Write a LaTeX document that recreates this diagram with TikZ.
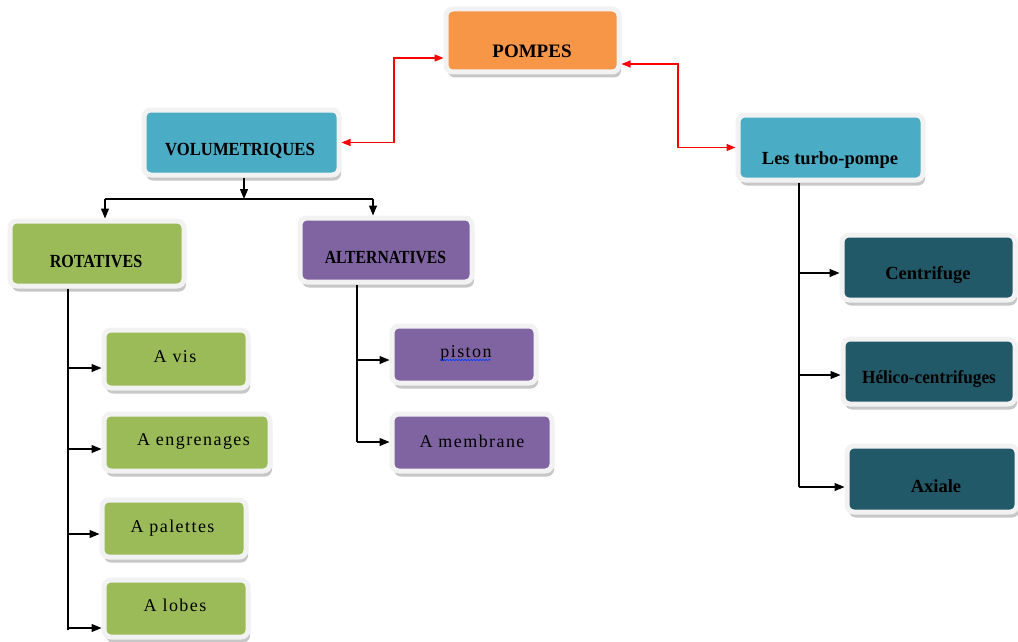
\documentclass[tikz,border=0pt]{standalone}
\usepackage{fontspec}
\usepackage{graphicx}
\setmainfont{Liberation Serif}
\newfontfamily\subfont{Liberation Serif}[LetterSpace=8]
\usetikzlibrary{arrows.meta,shadows,decorations.pathmorphing}
\definecolor{corange}{HTML}{F79646}
\definecolor{cblue}{HTML}{4BACC6}
\definecolor{cgreen}{HTML}{9BBB59}
\definecolor{cpurple}{HTML}{8064A2}
\definecolor{cteal}{HTML}{215968}
\definecolor{cframe}{HTML}{F2F2F2}
\tikzset{
  box/.style={rounded corners=7pt, draw=cframe, line width=5pt, inner sep=0pt,
    drop shadow={shadow xshift=2pt, shadow yshift=-5.5pt, opacity=0.4, fill=black!55}},
  lab/.style={anchor=base, inner sep=0pt, font=\bfseries\fontsize{18.5}{20}\selectfont, text=black},
  sublab/.style={anchor=base, inner sep=0pt, font=\subfont\fontsize{18}{20}\selectfont, text=black},
  conn/.style={line width=1.2pt, -{Triangle[length=10pt,width=8pt]}},
  plainline/.style={line width=1.2pt},
  redc/.style={red, line width=1.2pt, {Triangle[length=9pt,width=7pt]}-{Triangle[length=9pt,width=7pt]}}
}
\begin{document}
\begin{tikzpicture}[x=1pt,y=-1pt]
\useasboundingbox (0,0) rectangle (1018,642);
% boxes
\node[box, fill=corange, minimum width=173pt, minimum height=63pt] (pompes) at (532.5,40.5) {};
\node[box, fill=cblue, minimum width=195pt, minimum height=65pt] (vol) at (241.5,142.5) {};
\node[box, fill=cblue, minimum width=185pt, minimum height=65pt] (turbo) at (830.5,147.5) {};
\node[box, fill=cgreen, minimum width=174pt, minimum height=65pt] (rot) at (97,253.5) {};
\node[box, fill=cpurple, minimum width=172pt, minimum height=64pt] (alt) at (386,250) {};
\node[box, fill=cgreen, minimum width=144pt, minimum height=58pt] (avis) at (176,359) {};
\node[box, fill=cgreen, minimum width=166pt, minimum height=57pt] (aeng) at (187,442.5) {};
\node[box, fill=cgreen, minimum width=144pt, minimum height=57pt] (apal) at (174,528.5) {};
\node[box, fill=cgreen, minimum width=144pt, minimum height=57pt] (alob) at (176,608.5) {};
\node[box, fill=cpurple, minimum width=144pt, minimum height=57pt] (pist) at (464,354.5) {};
\node[box, fill=cpurple, minimum width=160pt, minimum height=57pt] (memb) at (472,442.5) {};
\node[box, fill=cteal, minimum width=173pt, minimum height=65pt] (centr) at (928.5,267.5) {};
\node[box, fill=cteal, minimum width=172pt, minimum height=65pt] (helico) at (929,371.5) {};
\node[box, fill=cteal, minimum width=170pt, minimum height=66pt] (axiale) at (932,479) {};
% labels
\node[lab, font=\bfseries\fontsize{19}{21}\selectfont] (tpompes) at (532,58) {POMPES};
\node[lab] (tvol) at (240,155) {\scalebox{0.9}[1]{VOLUMETRIQUES}};
\node[lab] (tturbo) at (830,164) {Les turbo-pompe};
\node[lab] (trot) at (96,267) {\scalebox{0.87}[1]{ROTATIVES}};
\node[lab] (talt) at (385.5,263) {\scalebox{0.85}[1]{ALTERNATIVES}};
\node[lab] (tcentr) at (928,279) {Centrifuge};
\node[lab] (thelico) at (929,383) {\scalebox{0.93}[1]{Hélico-centrifuges}};
\node[lab] (taxiale) at (936,492) {Axiale};
\node[sublab] (tavis) at (175,362) {A vis};
\node[sublab] (taeng) at (193.5,445) {A engrenages};
\node[sublab] (tapal) at (172.5,532) {A palettes};
\node[sublab] (talob) at (175,611) {A lobes};
\node[sublab] (tpist) at (466,357) {piston};
\node[sublab] (tmemb) at (472,447) {A membrane};
\draw[blue!75!cyan, line width=0.6pt, decorate, decoration={snake, amplitude=0.7pt, segment length=3pt}]
  ([yshift=-3pt]tpist.base west) -- ([yshift=-3pt,xshift=-1pt]tpist.base east);
% red connectors
\coordinate (rl) at (394,58);
\coordinate (rr) at (678,64);
\draw[redc] (vol.east) -| (rl) -- (rl -| pompes.west);
\draw[redc] (pompes.east |- rr) -- (rr) |- (turbo.west);
% volumetriques split
\coordinate (vj) at (244,199);
\coordinate (vl) at (105,199);
\coordinate (vr) at (373,199);
\draw[conn] (vj |- vol.south) -- (vj);
\draw[plainline] (vl) -- (vr);
\draw[conn] (vl) -- (vl |- rot.north);
\draw[conn] (vr) -- (vr |- alt.north);
% rotatives spine
\coordinate (rs) at (68,630);
\coordinate (r1) at (68,368);
\coordinate (r2) at (68,449);
\coordinate (r3) at (68,534);
\coordinate (r4) at (68,628);
\draw[plainline] (rs |- rot.south) -- (rs);
\draw[conn] (r1) -- (r1 -| avis.west);
\draw[conn] (r2) -- (r2 -| aeng.west);
\draw[conn] (r3) -- (r3 -| apal.west);
\draw[conn] (r4) -- (r4 -| alob.west);
% alternatives spine
\coordinate (as) at (357,442);
\coordinate (a1) at (357,360);
\draw[plainline] (as |- alt.south) -- (as);
\draw[conn] (a1) -- (a1 -| pist.west);
\draw[conn] (as) -- (as -| memb.west);
% turbo spine
\coordinate (ts) at (799,487);
\coordinate (t1) at (799,273);
\coordinate (t2) at (799,375);
\draw[plainline] (ts |- turbo.south) -- (ts);
\draw[conn] (t1) -- (t1 -| centr.west);
\draw[conn] (t2) -- (t2 -| helico.west);
\draw[conn] (ts) -- (ts -| axiale.west);
\end{tikzpicture}
\end{document}
